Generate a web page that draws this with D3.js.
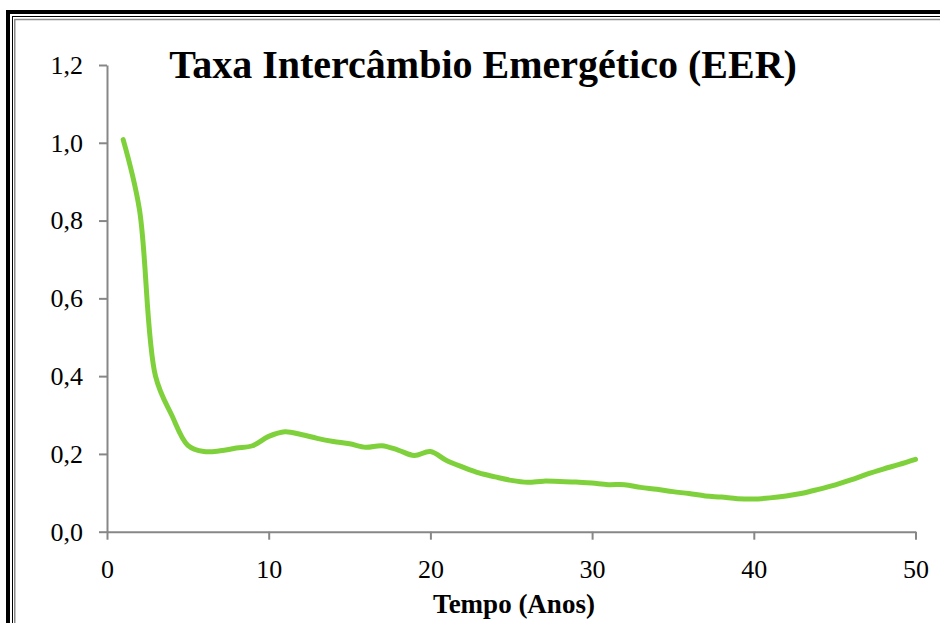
<!DOCTYPE html>
<html>
<head>
<meta charset="utf-8">
<script src="https://cdn.jsdelivr.net/npm/d3@7"></script>
<style>
  html, body { margin: 0; padding: 0; background: #fff; }
  svg { display: block; }
</style>
</head>
<body>
<svg id="chart" width="940" height="623"></svg>
<script>
// Emergy exchange ratio (EER) over 50 years
const anos = [1,2,3,4,5,6,7,8,9,10,11,12,13,14,15,16,17,18,19,20,
  21,22,23,24,25,26,27,28,29,30,31,32,33,34,35,36,37,38,39,40,
  41,42,43,44,45,46,47,48,49,50];
const eer = [1.008,0.83,0.40,0.30,0.222,0.206,0.208,0.215,0.221,0.245,
  0.257,0.250,0.240,0.232,0.226,0.217,0.221,0.210,0.196,0.206,
  0.183,0.166,0.151,0.141,0.132,0.127,0.130,0.129,0.128,0.125,
  0.121,0.121,0.114,0.109,0.103,0.098,0.092,0.089,0.085,0.084,
  0.087,0.092,0.099,0.109,0.120,0.133,0.148,0.161,0.173,0.186];
const xTicks = [0,10,20,30,40,50];
const yTicks = [0,0.2,0.4,0.6,0.8,1.0,1.2];
const titulo = "Taxa Intercâmbio Emergético (EER)";
const tituloEixoX = "Tempo (Anos)";

const svg = d3.select("#chart");
const serif = "'Liberation Serif', 'Times New Roman', serif";
const axisGray = "#878787";

// Double frame around the chart area
const frame = svg.append("g").attr("fill", "none");
frame.append("rect").attr("x", 8).attr("y", 12).attr("width", 960).attr("height", 650)
  .attr("stroke", "#000").attr("stroke-width", 4);
frame.append("rect").attr("x", 12.5).attr("y", 16.5).attr("width", 960).attr("height", 650)
  .attr("stroke", "#000").attr("stroke-width", 1);
frame.append("rect").attr("x", 14.75).attr("y", 19.5).attr("width", 960).attr("height", 650)
  .attr("stroke", "#8a8a8a").attr("stroke-width", 1.5);

const x = d3.scaleLinear().domain([0, 50]).range([107, 915.5]);
const y = d3.scaleLinear().domain([0, 1.2]).range([531.7, 65]);
const fmt = d => d3.format(".1f")(d).replace(".", ",");

// Y axis
const gy = svg.append("g").attr("transform", `translate(${x(0)},0)`)
  .call(d3.axisLeft(y).tickValues(yTicks).tickFormat(fmt).tickSize(8).tickSizeOuter(0).tickPadding(16));
// X axis
const gx = svg.append("g").attr("transform", `translate(0,${y(0)})`)
  .call(d3.axisBottom(x).tickValues(xTicks).tickFormat(d3.format("d")).tickSize(8).tickSizeOuter(0).tickPadding(20));

[gx, gy].forEach(g => {
  g.select(".domain").attr("stroke", axisGray).attr("stroke-width", 2);
  g.selectAll(".tick line").attr("stroke", axisGray).attr("stroke-width", 2);
  g.selectAll(".tick text").attr("fill", "#000")
    .style("font-family", serif).style("font-size", "26px");
});

// EER series
const linha = d3.line()
  .x((d, i) => x(anos[i]))
  .y(d => y(d))
  .curve(d3.curveCatmullRom.alpha(0.5));
svg.append("path")
  .datum(eer)
  .attr("fill", "none")
  .attr("stroke", "#7ed13a")
  .attr("stroke-width", 5)
  .attr("stroke-linecap", "round")
  .attr("stroke-linejoin", "round")
  .attr("d", linha);

// Title
svg.append("text")
  .attr("x", 483).attr("y", 77.5)
  .attr("text-anchor", "middle")
  .style("font-family", serif).style("font-size", "40px").style("font-weight", "bold")
  .text(titulo);

// X axis title
svg.append("text")
  .attr("x", 514).attr("y", 613)
  .attr("text-anchor", "middle")
  .style("font-family", serif).style("font-size", "27px").style("font-weight", "bold")
  .text(tituloEixoX);
</script>
</body>
</html>
